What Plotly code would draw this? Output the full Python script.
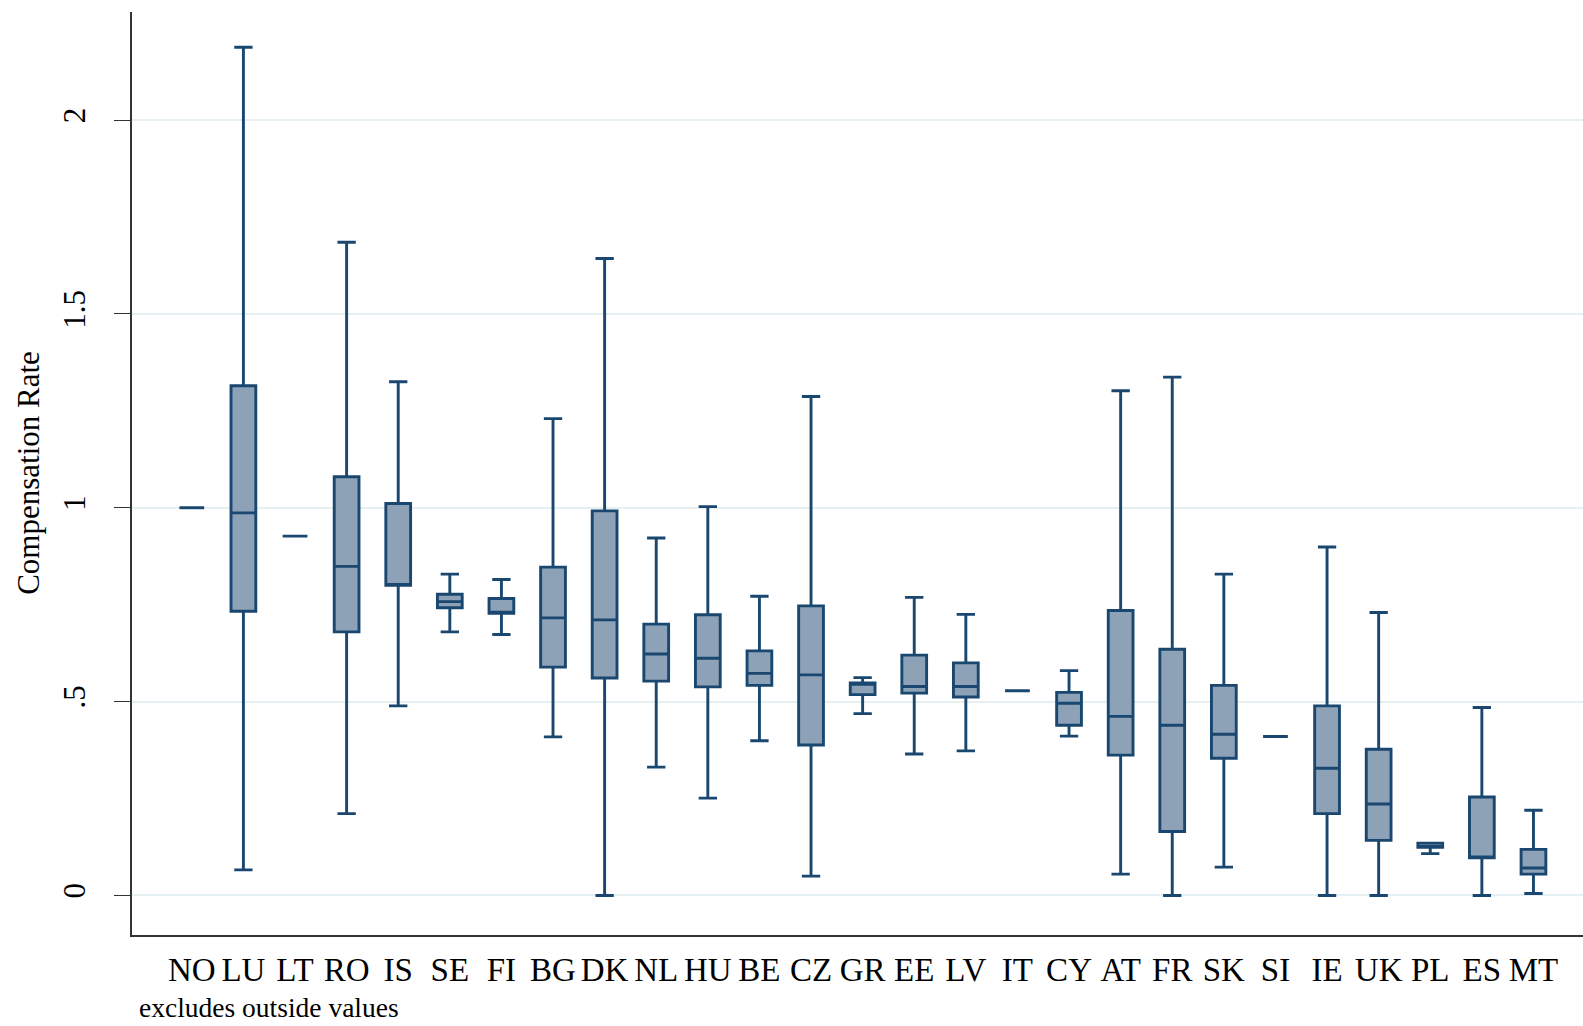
import plotly.graph_objects as go

countries = ["NO", "LU", "LT", "RO", "IS", "SE", "FI", "BG", "DK", "NL", "HU", "BE", "CZ", "GR",
             "EE", "LV", "IT", "CY", "AT", "FR", "SK", "SI", "IE", "UK", "PL", "ES", "MT"]
lower_adj = [1.000, 0.066, 0.927, 0.211, 0.489, 0.680, 0.673, 0.409, 0.000, 0.331, 0.251, 0.399, 0.050, 0.469,
             0.365, 0.373, 0.528, 0.411, 0.055, 0.000, 0.073, 0.410, 0.000, 0.000, 0.108, 0.000, 0.005]
q1 = [1.000, 0.733, 0.927, 0.680, 0.800, 0.742, 0.728, 0.589, 0.561, 0.553, 0.538, 0.542, 0.388, 0.518,
      0.522, 0.512, 0.528, 0.439, 0.362, 0.165, 0.354, 0.410, 0.211, 0.142, 0.124, 0.097, 0.055]
median = [1.000, 0.987, 0.927, 0.849, 0.802, 0.758, 0.729, 0.716, 0.711, 0.623, 0.612, 0.573, 0.569, 0.545,
          0.539, 0.539, 0.528, 0.496, 0.462, 0.439, 0.416, 0.410, 0.328, 0.236, 0.125, 0.099, 0.071]
q3 = [1.000, 1.315, 0.927, 1.080, 1.011, 0.777, 0.766, 0.847, 0.992, 0.700, 0.724, 0.631, 0.747, 0.548,
      0.620, 0.600, 0.528, 0.524, 0.735, 0.635, 0.542, 0.410, 0.489, 0.377, 0.135, 0.254, 0.119]
upper_adj = [1.000, 2.188, 0.927, 1.685, 1.325, 0.829, 0.815, 1.230, 1.643, 0.922, 1.003, 0.772, 1.287, 0.562,
             0.769, 0.725, 0.528, 0.580, 1.302, 1.337, 0.829, 0.410, 0.899, 0.730, 0.135, 0.485, 0.220]

ytick_vals = [0, 0.5, 1, 1.5, 2]
ytick_text = ["0", ".5", "1", "1.5", "2"]

NAVY = "#1A476F"
FILL = "#8DA2B7"
FONT = "Liberation Serif"

pos = list(range(len(countries)))

fig = go.Figure()
fig.add_trace(go.Box(
    x=pos, q1=q1, median=median, q3=q3, lowerfence=lower_adj, upperfence=upper_adj,
    width=0.48, whiskerwidth=0.74,
    fillcolor=FILL, line=dict(color=NAVY, width=2.9),
    boxpoints=False, hoverinfo="skip", showlegend=False,
))

fig.update_layout(
    width=1583, height=1026,
    margin=dict(l=132, r=0, t=12, b=91),
    paper_bgcolor="white", plot_bgcolor="white",
    font=dict(family=FONT, color="black"),
    xaxis=dict(
        range=[-1.159, 26.96], tickvals=pos, ticktext=countries,
        tickfont=dict(family=FONT, size=33, color="black"),
        showgrid=False, zeroline=False, ticks="", showline=True,
        linecolor="#333333", linewidth=1.6, ticklabelstandoff=5,
    ),
    yaxis=dict(
        range=[-0.102, 2.279], tickvals=ytick_vals, ticktext=ytick_text,
        tickangle=-90, tickfont=dict(family=FONT, size=31, color="black"),
        ticks="outside", ticklen=16, tickwidth=1.4, tickcolor="#333333",
        showgrid=True, gridcolor="#E6EFF1", gridwidth=1.8, zeroline=False,
        showline=True, linecolor="#333333", linewidth=1.6, ticklabelstandoff=17,
    ),
    annotations=[
        dict(text="Compensation Rate", xref="paper", yref="paper",
             x=-0.0715, y=0.501, xanchor="center", yanchor="middle",
             textangle=-90, showarrow=False,
             font=dict(family=FONT, size=31, color="black")),
        dict(text="excludes outside values", xref="paper", yref="paper",
             x=0.004, y=-0.0968, xanchor="left", yanchor="bottom", borderpad=0,
             showarrow=False, font=dict(family=FONT, size=27.5, color="black")),
    ],
)

fig.write_html("out.html", config={"displayModeBar": False},
               post_script="document.body.style.margin='0';document.body.style.overflow='hidden';")
